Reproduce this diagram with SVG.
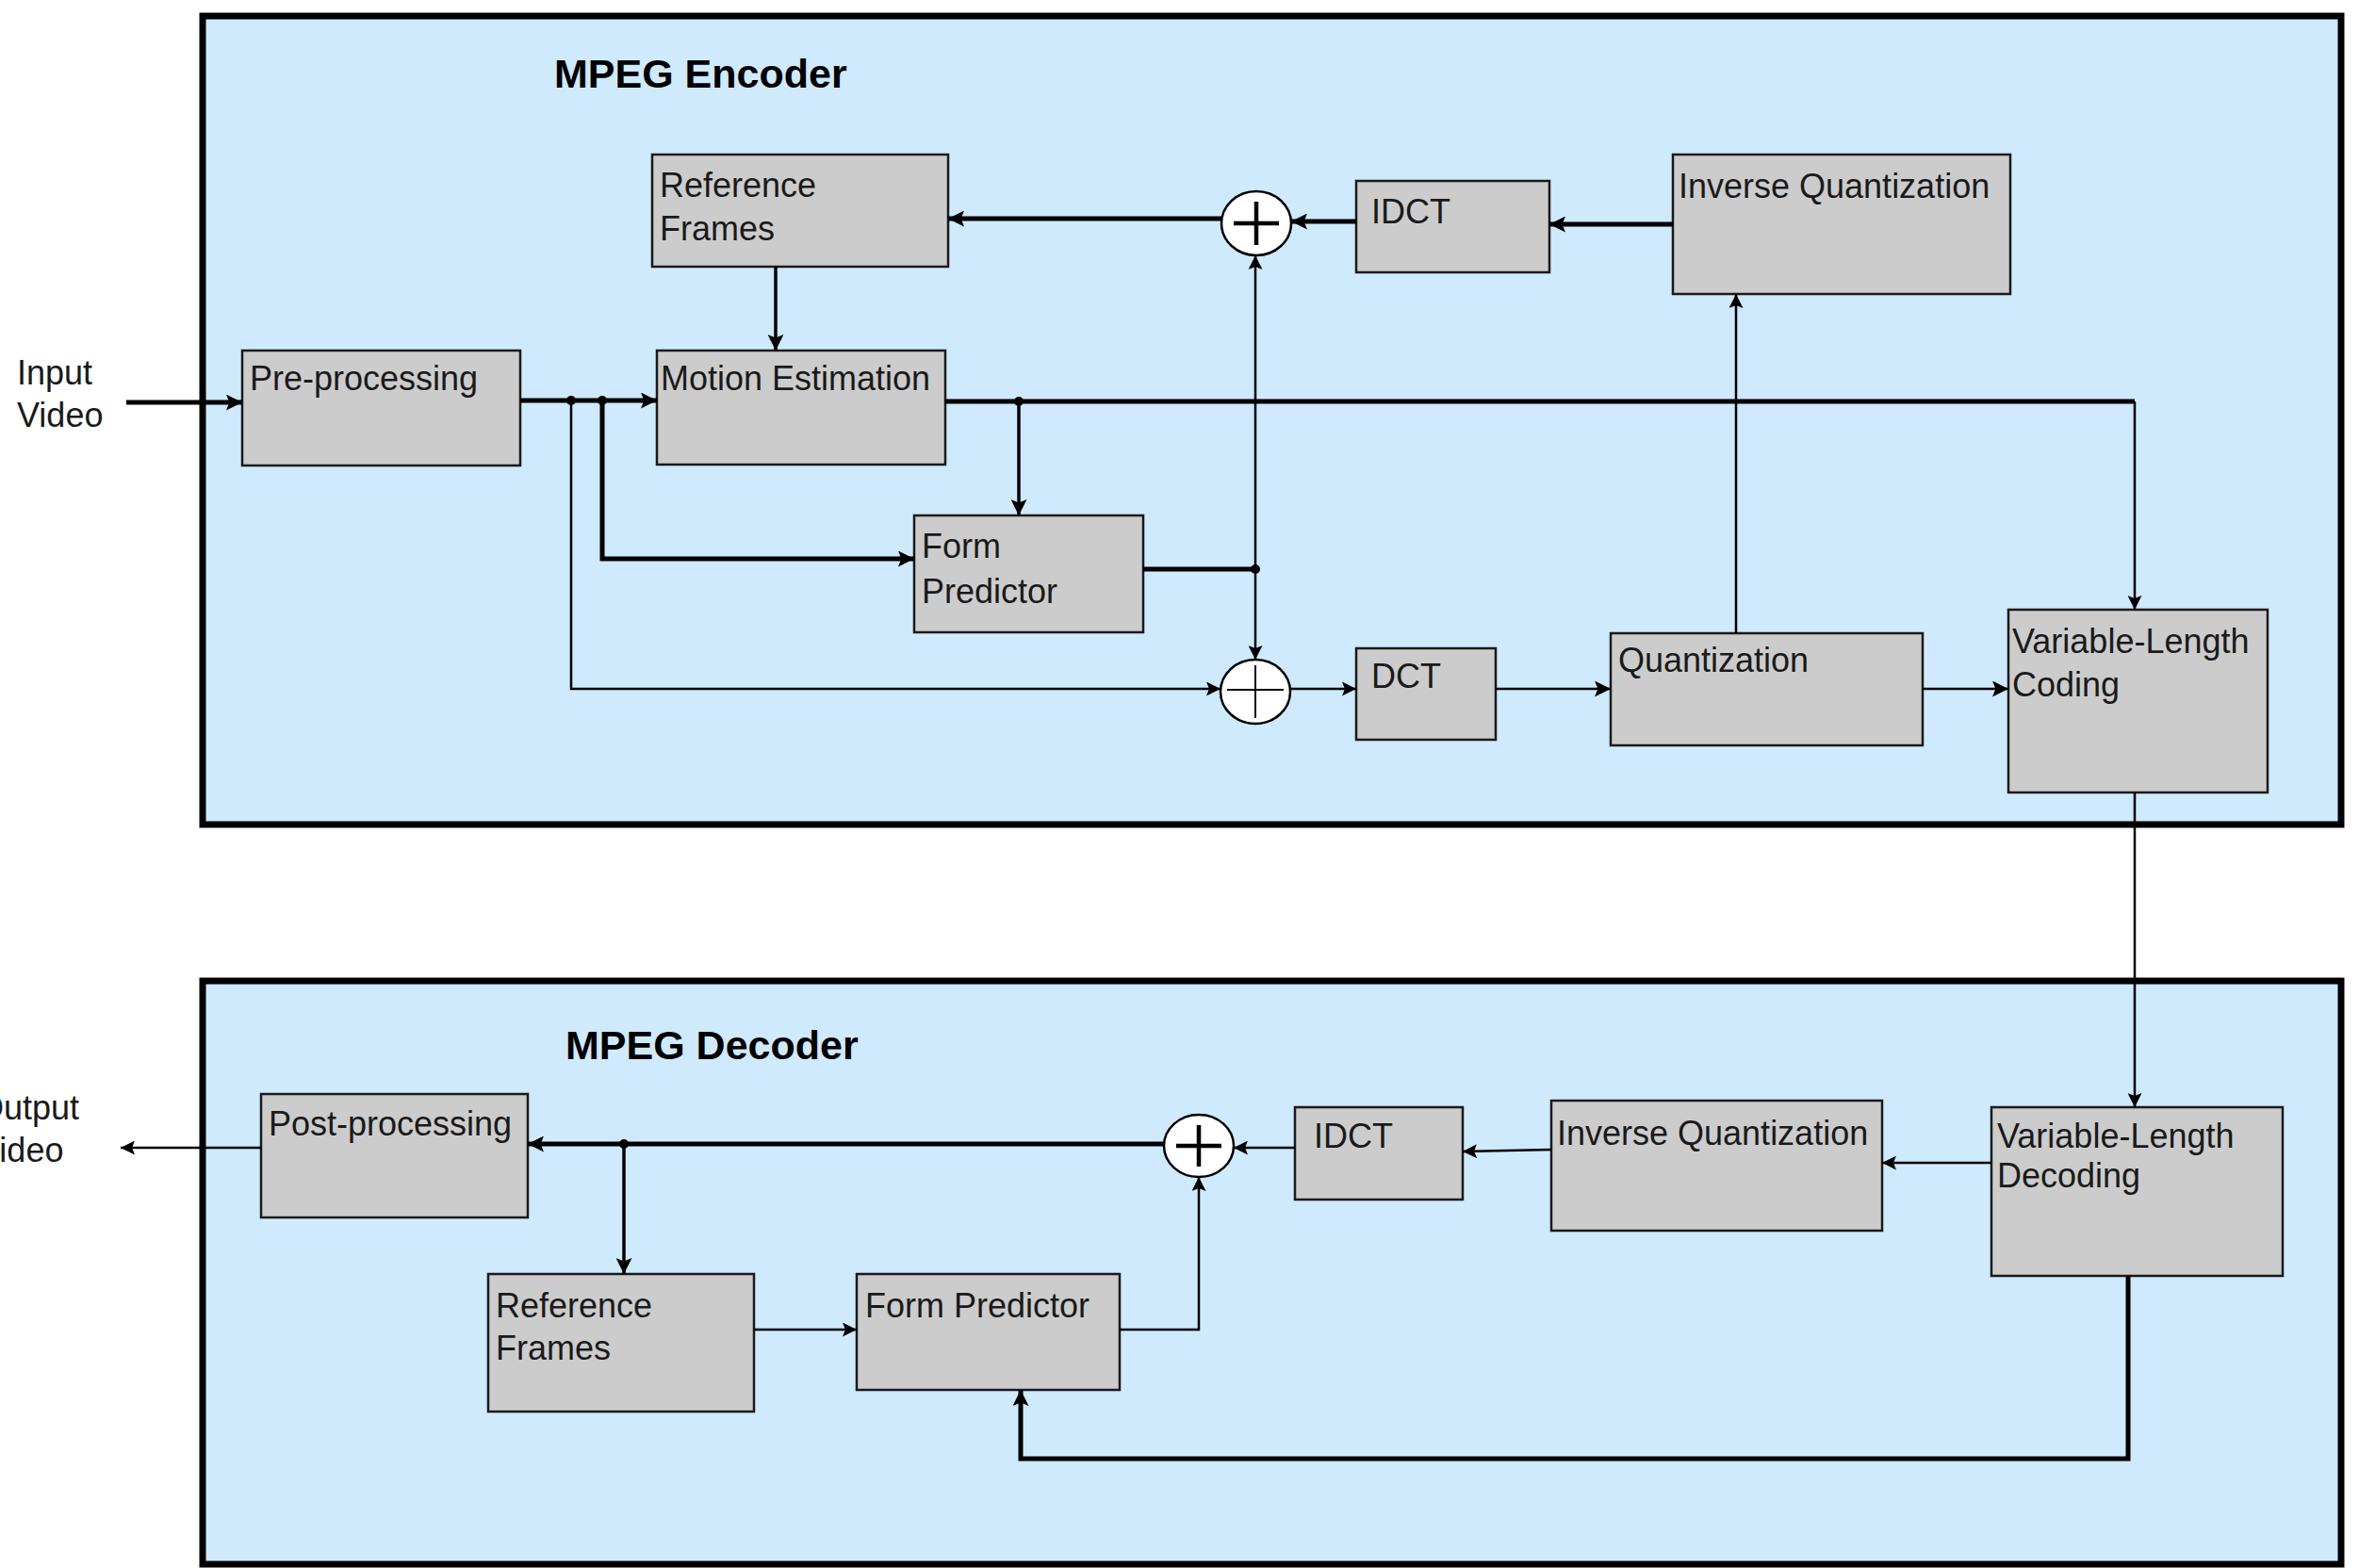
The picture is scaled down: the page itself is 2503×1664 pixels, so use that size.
<svg xmlns="http://www.w3.org/2000/svg" width="2503" height="1664" viewBox="0 0 2503 1664">
<defs>
<style>
.panel{fill:#cfe9fd;stroke:#000;stroke-width:7}
.node rect{fill:#cccccc;stroke:#1a1a1a;stroke-width:2.5}
.sum ellipse{fill:#fff;stroke:#000;stroke-width:2.5}
.t{font-family:"Liberation Sans",Arial,sans-serif;font-size:36px;fill:#1a1a1a}
.title{font-family:"Liberation Sans",Arial,sans-serif;font-size:43px;font-weight:bold;fill:#000}
.w{fill:none;stroke:#000;stroke-linejoin:miter}
.thick{stroke-width:5}
.med{stroke-width:3.5}
.thin{stroke-width:2.5}
.dot{fill:#000}
</style>
<marker id="ah" viewBox="0 0 10 10" refX="10" refY="5" markerWidth="17" markerHeight="17" markerUnits="userSpaceOnUse" orient="auto">
<path d="M0,0 L10,5 L0,10 L2,5 z" fill="#000"/>
</marker>
<marker id="ahs" viewBox="0 0 10 10" refX="10" refY="5" markerWidth="16" markerHeight="15" markerUnits="userSpaceOnUse" orient="auto">
<path d="M0,0 L10,5 L0,10 L2,5 z" fill="#000"/>
</marker>
</defs>
<rect width="2503" height="1664" fill="#fff"/>

<g id="encoder-panel">
<rect class="panel" x="215" y="17" width="2269" height="858"/>
<text class="title" x="588" y="93">MPEG Encoder</text>
</g>
<g id="decoder-panel">
<rect class="panel" x="215" y="1041" width="2269" height="619"/>
<text class="title" x="600" y="1124">MPEG Decoder</text>
</g>

<g id="input-video"><text class="t" x="18" y="408">Input</text><text class="t" x="18" y="453">Video</text></g>
<g id="output-video"><text class="t" x="-24" y="1188">Output</text><text class="t" x="-24" y="1233">Video</text></g>

<g id="enc-preprocessing" class="node"><rect x="257" y="372" width="295" height="122"/><text class="t" x="265" y="414">Pre-processing</text></g>
<g id="enc-reference-frames" class="node"><rect x="692" y="164" width="314" height="119"/><text class="t" x="700" y="209">Reference</text><text class="t" x="700" y="255">Frames</text></g>
<g id="enc-motion-estimation" class="node"><rect x="697" y="372" width="306" height="121"/><text class="t" x="701" y="414">Motion Estimation</text></g>
<g id="enc-form-predictor" class="node"><rect x="970" y="547" width="243" height="124"/><text class="t" x="978" y="592">Form</text><text class="t" x="978" y="640">Predictor</text></g>
<g id="enc-idct" class="node"><rect x="1439" y="192" width="205" height="97"/><text class="t" x="1455" y="237">IDCT</text></g>
<g id="enc-inverse-quantization" class="node"><rect x="1775" y="164" width="358" height="148"/><text class="t" x="1781" y="210">Inverse Quantization</text></g>
<g id="enc-dct" class="node"><rect x="1439" y="688" width="148" height="97"/><text class="t" x="1455" y="730">DCT</text></g>
<g id="enc-quantization" class="node"><rect x="1709" y="672" width="331" height="119"/><text class="t" x="1717" y="713">Quantization</text></g>
<g id="enc-vlc" class="node"><rect x="2131" y="647" width="275" height="194"/><text class="t" x="2135" y="693">Variable-Length</text><text class="t" x="2135" y="739">Coding</text></g>
<g id="enc-sum-top" class="sum"><ellipse cx="1333" cy="237" rx="37" ry="34"/><path d="M1333,214 V260 M1309,237 H1357" stroke="#000" stroke-width="4.5"/></g>
<g id="enc-sum-bottom" class="sum"><ellipse cx="1332" cy="734" rx="37" ry="34"/><path d="M1332,706 V762 M1302,732 H1362" stroke="#000" stroke-width="2"/></g>

<g id="dec-postprocessing" class="node"><rect x="277" y="1161" width="283" height="131"/><text class="t" x="285" y="1205">Post-processing</text></g>
<g id="dec-reference-frames" class="node"><rect x="518" y="1352" width="282" height="146"/><text class="t" x="526" y="1398">Reference</text><text class="t" x="526" y="1443">Frames</text></g>
<g id="dec-form-predictor" class="node"><rect x="909" y="1352" width="279" height="123"/><text class="t" x="918" y="1398">Form Predictor</text></g>
<g id="dec-idct" class="node"><rect x="1374" y="1175" width="178" height="98"/><text class="t" x="1394" y="1218">IDCT</text></g>
<g id="dec-inverse-quantization" class="node"><rect x="1646" y="1168" width="351" height="138"/><text class="t" x="1652" y="1215">Inverse Quantization</text></g>
<g id="dec-vld" class="node"><rect x="2113" y="1175" width="309" height="179"/><text class="t" x="2119" y="1218">Variable-Length</text><text class="t" x="2119" y="1260">Decoding</text></g>
<g id="dec-sum" class="sum"><ellipse cx="1272" cy="1216" rx="37" ry="33"/><path d="M1272,1194 V1238 M1248,1216 H1296" stroke="#000" stroke-width="4.5"/></g>

<g id="connectors">
<path class="w thick" d="M134,427 H257" marker-end="url(#ah)"/>
<path class="w thick" d="M552,425 H697" marker-end="url(#ah)"/>
<path class="w thin" d="M606,425 V731 H1295" marker-end="url(#ahs)"/>
<path class="w thick" d="M639,425 V593 H970" marker-end="url(#ah)"/>
<path class="w med" d="M823,283 V372" marker-end="url(#ah)"/>
<path class="w thick" d="M1003,426 H2265"/>
<path class="w thin" d="M2265,426 V647" marker-end="url(#ahs)"/>
<path class="w med" d="M1081,426 V547" marker-end="url(#ah)"/>
<path class="w thick" d="M1213,604 H1332"/>
<path class="w thin" d="M1332,604 V271" marker-end="url(#ahs)"/>
<path class="w thin" d="M1332,604 V700" marker-end="url(#ahs)"/>
<path class="w thin" d="M1369,731 H1439" marker-end="url(#ahs)"/>
<path class="w thin" d="M1587,731 H1709" marker-end="url(#ah)"/>
<path class="w thin" d="M2040,731 H2131" marker-end="url(#ah)"/>
<path class="w thin" d="M1842,672 V312" marker-end="url(#ahs)"/>
<path class="w thick" d="M1775,238 H1644" marker-end="url(#ah)"/>
<path class="w thick" d="M1439,235 H1370" marker-end="url(#ah)"/>
<path class="w thick" d="M1296,232 H1006" marker-end="url(#ah)"/>
<path class="w thin" d="M2265,841 V1175" marker-end="url(#ahs)"/>
<circle class="dot" cx="606" cy="425" r="5"/>
<circle class="dot" cx="639" cy="425" r="5"/>
<circle class="dot" cx="1081" cy="426" r="5"/>
<circle class="dot" cx="1332" cy="604" r="5"/>

<path class="w thin" d="M277,1218 H128" marker-end="url(#ahs)"/>
<path class="w thick" d="M1235,1214 H560" marker-end="url(#ah)"/>
<path class="w med" d="M662,1214 V1352" marker-end="url(#ah)"/>
<circle class="dot" cx="662" cy="1214" r="5"/>
<path class="w thin" d="M800,1411 H909" marker-end="url(#ahs)"/>
<path class="w thin" d="M1188,1411 H1272 V1249" marker-end="url(#ahs)"/>
<path class="w thin" d="M2113,1234 H1997" marker-end="url(#ahs)"/>
<path class="w thin" d="M1646,1220 L1552,1222" marker-end="url(#ahs)"/>
<path class="w thin" d="M1374,1218 H1309" marker-end="url(#ahs)"/>
<path class="w thick" d="M2258,1354 V1548 H1083 V1475" marker-end="url(#ah)"/>
</g>
</svg>
